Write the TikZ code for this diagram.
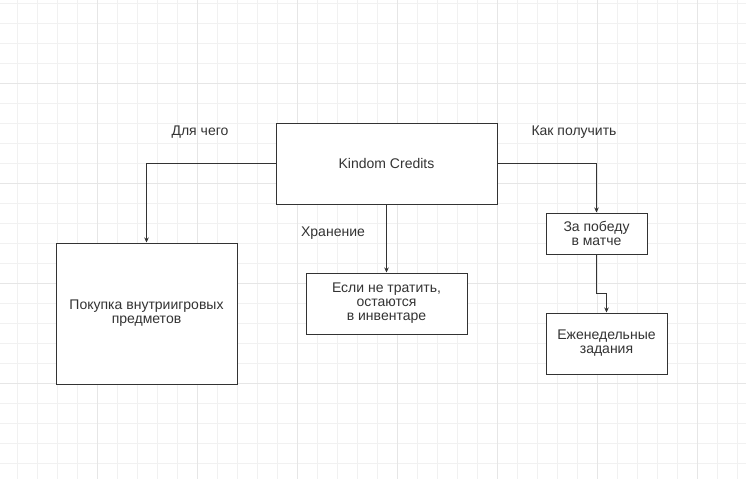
\documentclass[tikz,border=0pt]{standalone}
\usepackage{fontspec}
\setmainfont{Liberation Sans}
\usetikzlibrary{arrows.meta}
\definecolor{gridminor}{HTML}{F1F1F1}
\definecolor{gridmajor}{HTML}{E6E6E6}
\definecolor{ink}{HTML}{333333}
\tikzset{
  box/.style={draw=ink, line width=1pt, fill=white, rectangle, inner sep=0pt, align=center,
    font=\fontsize{14}{14}\selectfont, text=ink},
  lbl/.style={font=\fontsize{14}{14}\selectfont, text=ink, inner sep=0pt},
  conn/.style={draw=ink, line width=1pt, -{Stealth[length=5pt,width=4.5pt]}},
}
\begin{document}
\begin{tikzpicture}[x=1pt,y=-1pt]
\useasboundingbox (0,0) rectangle (746,479);
\fill[white] (0,0) rectangle (746,479);
% grid
\foreach \x in {17,37,...,737} \draw[gridminor, line width=1pt] (\x,0) -- (\x,479);
\foreach \y in {3,23,...,479} \draw[gridminor, line width=1pt] (0,\y) -- (746,\y);
\foreach \x in {97,197,...,697} \draw[gridmajor, line width=1pt] (\x,0) -- (\x,479);
\foreach \y in {83,183,...,479} \draw[gridmajor, line width=1pt] (0,\y) -- (746,\y);
% nodes
\node[box, minimum width=221pt, minimum height=81pt] (kc) at (386.5,163.5) {Kindom Credits};
\node[box, minimum width=181pt, minimum height=141pt] (buy) at (146.5,313.5) {Покупка внутриигровых\\предметов};
\node[box, minimum width=161pt, minimum height=61pt] (keep) at (386.5,303.5) {Если не тратить,\\остаются\\в инвентаре};
\node[box, minimum width=101pt, minimum height=41pt] (win) at (596.5,233.5) {За победу\\в матче};
\node[box, minimum width=121pt, minimum height=61pt] (week) at (606.5,343.5) {Еженедельные\\задания};
% labels
\node[lbl] (l1) at (200,132) {Для чего};
\node[lbl] (l2) at (333,233) {Хранение};
\node[lbl] (l3) at (574,132) {Как получить};
% connectors
\draw[conn] (kc.west) -| (buy.north);
\draw[conn] (kc.south) -- (keep.north);
\draw[conn] (kc.east) -| (win.north);
\draw[conn] (win.south) -- ++(0,39) -| (week.north);
\end{tikzpicture}
\end{document}
